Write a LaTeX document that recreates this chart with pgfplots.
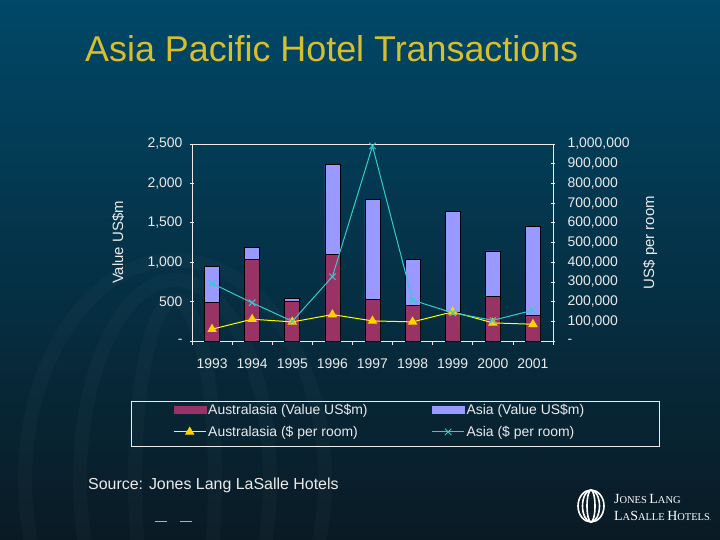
\documentclass[border=0pt]{standalone}
\usepackage{pgfplots}
\pgfplotsset{compat=1.18}
\usepackage{pgfplotstable}
\usepackage{fontspec}
\setmainfont{Liberation Sans}
\newfontfamily\logofont{Liberation Serif}

\definecolor{bgtop}{RGB}{0,72,104}
\definecolor{bgbot}{RGB}{10,26,36}
\definecolor{ausbar}{RGB}{153,51,102}
\definecolor{asiabar}{RGB}{153,153,255}
\definecolor{ausline}{RGB}{255,255,0}
\definecolor{ausmark}{RGB}{255,210,0}
\definecolor{asialine}{RGB}{51,204,204}
\definecolor{titlec}{RGB}{215,190,45}
\definecolor{txt}{RGB}{235,235,235}

% value of transactions, US$m (Asia = part stacked on top)
\pgfplotstableread{
x aus asia
0 490 455
1 1037 153
2 510 30
3 1101 1144
4 527 1267
5 451 582
6 370 1271
7 561 583
8 323 1131
}\valtab

% US$ per room
\pgfplotstableread{
x aus asia
0 60000 292500
1 110500 194000
2 97000 100000
3 134000 326500
4 102000 990000
5 97000 207000
6 148000 143000
7 92000 105000
8 85000 156000
}\roomtab

\pgfplotsset{
  common/.style={
    scale only axis, width=361bp, height=197bp,
    at={(192bp,199bp)}, anchor=south west,
    xmin=-0.5, xmax=8.5,
    axis line style={txt, line width=0.8pt},
    tick style={txt, line width=0.6pt},
    major tick length=4bp,
    ticklabel style={font=\fontsize{14}{14}\selectfont, text=txt},
    /pgf/number format/assume math mode=true,
    scaled y ticks=false,
  },
}
\tikzset{ylab/.style={at={(rel axis cs:#1,0.5)}, rotate=90, anchor=center,
    font=\fontsize{15}{16}\selectfont, text=txt}}

\newcommand\logosc[2]{{\fontsize{14}{14}\selectfont #1}{\fontsize{10.5}{10.5}\selectfont #2}}

\begin{document}
\begin{tikzpicture}
\shade[top color=bgtop, bottom color=bgbot] (0,0) rectangle (720bp,540bp);
\useasboundingbox (0,0) rectangle (720bp,540bp);

% faint watermark arcs
\begin{scope}[opacity=0.025, line width=14bp, draw=white]
  \draw (175bp,60bp) ellipse (150bp and 220bp);
  \draw (175bp,60bp) ellipse (95bp and 200bp);
  \draw (175bp,60bp) ellipse (40bp and 180bp);
\end{scope}

\node[anchor=base west, text=titlec, font=\fontsize{36}{36}\selectfont, inner sep=0pt]
  at (85bp,478bp) {Asia Pacific Hotel Transactions};

% bars: value US$m
\begin{axis}[common,
  ybar stacked, bar width=15bp,
  ymin=0, ymax=2500,
  ytick={0,500,1000,1500,2000,2500},
  yticklabels={-,500,{1,000},{1,500},{2,000},{2,500}},
  yticklabel style={xshift=-4bp},
  xtick={-0.5,0.5,...,8.5}, xticklabels={},
  xtick align=outside, ytick align=center,
  extra x ticks={0,1,2,3,4,5,6,7,8},
  extra x tick labels={1993,1994,1995,1996,1997,1998,1999,2000,2001},
  extra x tick style={major tick length=0pt,
    xticklabel style={yshift=-14bp}},
  axis y line*=left, axis x line*=bottom,
  ylabel={Value US\$m},
  every axis y label/.style={ylab=-0.205},
  clip=false,
]
\addplot[fill=ausbar, draw=black, line width=0.6pt] table[x=x, y=aus] {\valtab};
\addplot[fill=asiabar, draw=black, line width=0.6pt] table[x=x, y=asia] {\valtab};
\draw[txt, line width=0.8pt] (rel axis cs:0,1) -- (rel axis cs:1,1);
\end{axis}

% lines: US$ per room
\begin{axis}[common,
  ymin=0, ymax=1000000,
  axis x line=none, axis y line*=right,
  ytick={0,100000,...,1000000},
  yticklabels={-,{100,000},{200,000},{300,000},{400,000},{500,000},{600,000},{700,000},{800,000},{900,000},{1,000,000}},
  yticklabel style={xshift=9bp},
  ytick align=center,
  ylabel={US\$ per room},
  every axis y label/.style={ylab=1.269},
  legend columns=2,
  legend cell align=left,
  legend image code/.code={\draw[mark repeat=2, mark phase=2, #1] plot coordinates {(0bp,0bp)(16bp,0bp)(32bp,0bp)};},
  legend style={at={(-0.0526,-0.406)}, anchor=west, draw=none, fill=none,
    inner sep=0pt, row sep=6bp, text=txt,
    font=\fontsize{14}{15}\selectfont,
    /tikz/every even column/.append style={column sep=62bp}},
  legend entries={Australasia (Value US\$m), Asia (Value US\$m),
    Australasia (\$ per room), Asia (\$ per room)},
  clip=false,
]
\addlegendimage{legend image code/.code={\fill[ausbar] (0bp,-3.5bp) rectangle (32bp,3.5bp);}}
\addlegendimage{legend image code/.code={\fill[asiabar] (0bp,-3.5bp) rectangle (32bp,3.5bp);}}
\addplot[ausline, line width=1pt, mark=triangle*, mark size=4.5bp,
  mark options={fill=ausmark, draw=ausmark}] table[x=x, y=aus] {\roomtab};
\addplot[asialine, line width=1pt, mark=x, mark size=4.5bp] table[x=x, y=asia] {\roomtab};
\end{axis}

% legend box
\draw[txt, line width=0.8pt] (131bp,94bp) rectangle (659bp,139bp);

\node[anchor=base west, text=txt, font=\fontsize{16}{16}\selectfont, inner sep=0pt]
  at (88bp,50bp) {Source: Jones Lang LaSalle Hotels};

\draw[gray!60, line width=1pt] (155bp,19bp) -- (167bp,19bp) (180bp,19bp) -- (192bp,19bp);

% logo
\begin{scope}[white, line width=1.6pt]
  \draw (591bp,34bp) ellipse (13bp and 16bp);
  \draw (591bp,34bp) ellipse (8.5bp and 16bp);
  \draw (591bp,34bp) ellipse (4bp and 16bp);
\end{scope}
\node[anchor=base west, text=white, inner sep=0pt] at (614bp,37bp) {\logofont\logosc{J}{ONES} \logosc{L}{ANG}};
\node[anchor=base west, text=white, inner sep=0pt] at (614bp,20bp) {\logofont\logosc{L}{A}\logosc{S}{ALLE} \logosc{H}{OTELS}{\fontsize{6}{6}\selectfont .}};
\end{tikzpicture}
\end{document}
